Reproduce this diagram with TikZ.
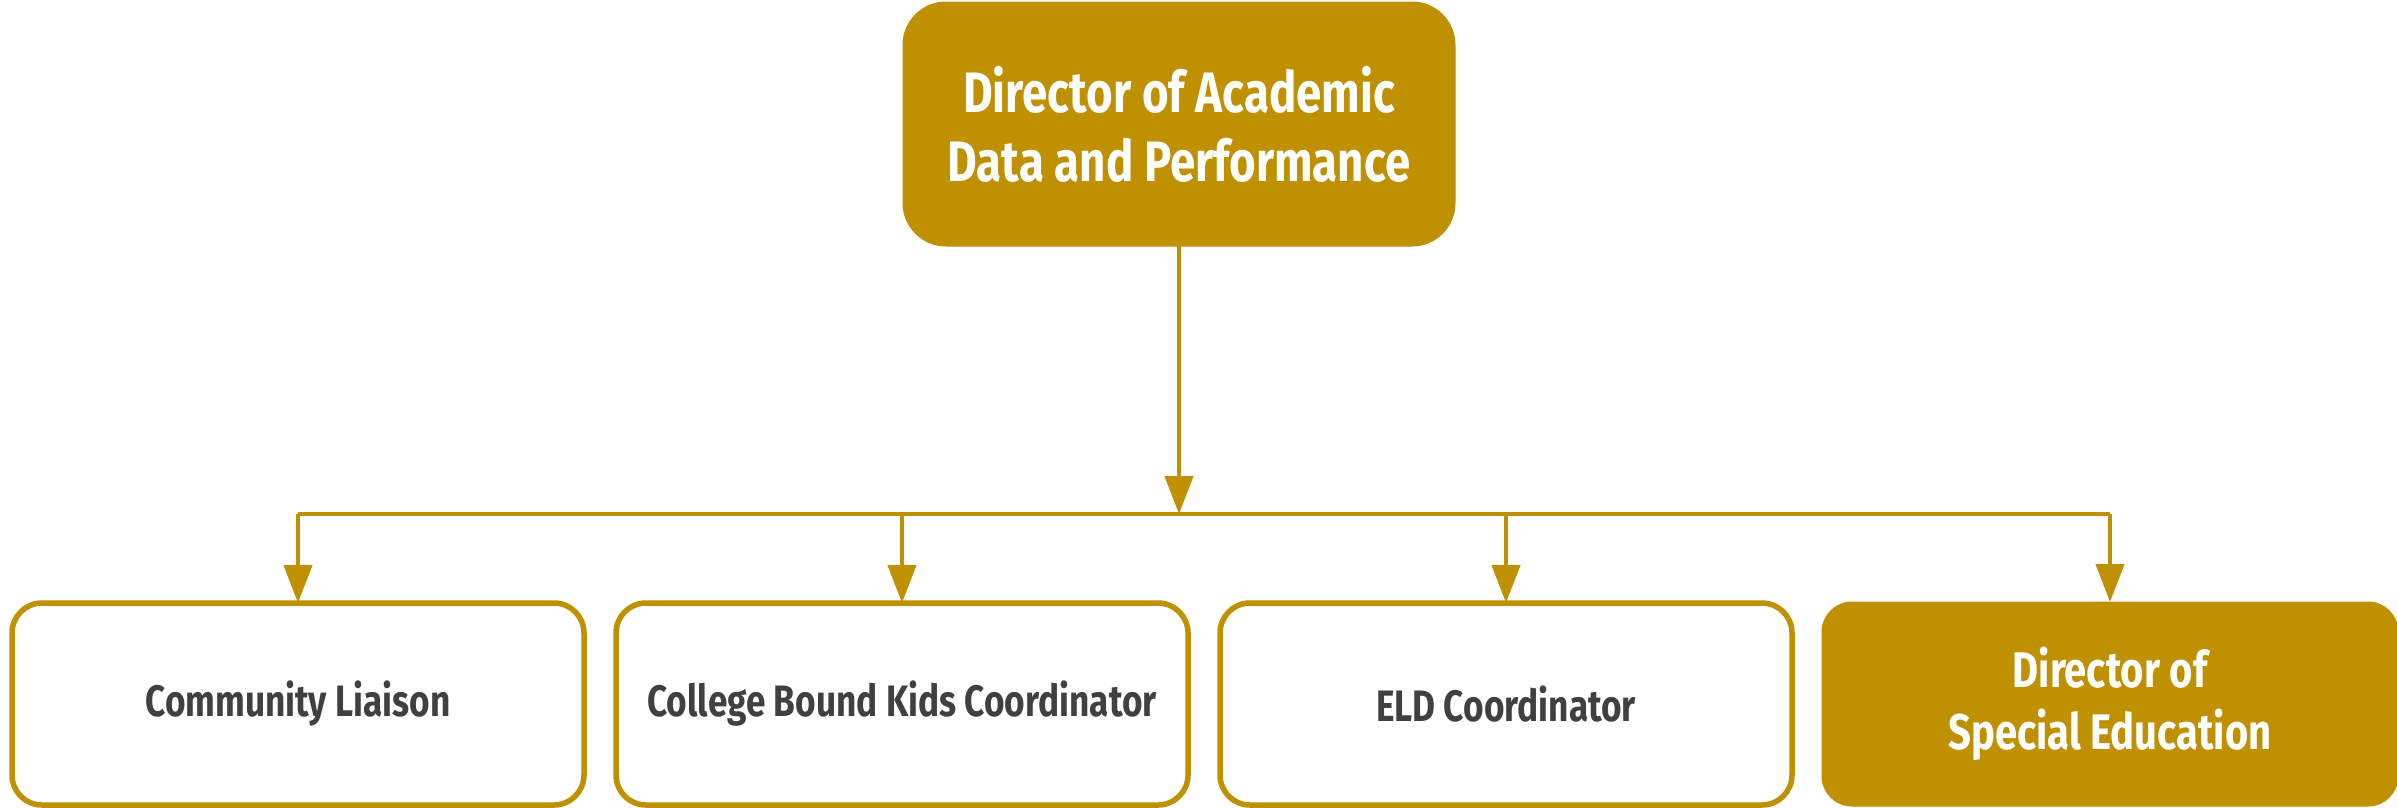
\documentclass[tikz,border=0pt]{standalone}
\usepackage{fontspec}
\setmainfont{Fira Sans}[FakeStretch=0.8]
\usetikzlibrary{arrows.meta}
\definecolor{gold}{HTML}{BF9000}
\definecolor{txt}{HTML}{404040}
\tikzset{
  topbox/.style={rectangle, rounded corners=43pt, fill=gold, draw=gold, line width=1pt, minimum width=552pt, minimum height=244pt, inner sep=0pt, outer sep=0pt, text=white, align=center, font=\fontsize{57}{69}\selectfont\bfseries},
  outbox/.style={rectangle, rounded corners=30pt, fill=white, draw=gold, line width=5.5pt, minimum width=572pt, minimum height=202pt, inner sep=0pt, outer sep=0pt, text=txt, align=center, font=\fontsize{44}{58}\selectfont\bfseries},
  fillbox/.style={rectangle, rounded corners=30pt, fill=gold, draw=gold, line width=1pt, minimum width=576pt, minimum height=204pt, inner sep=0pt, outer sep=0pt, text=white, align=center, font=\fontsize{50}{62}\selectfont\bfseries},
  conn/.style={draw=gold, line width=4.5pt},
  arr/.style={conn, -{Triangle[width=28pt,length=38pt]}}
}
\begin{document}
\begin{tikzpicture}[x=1pt,y=-1pt]
\useasboundingbox (0,0) rectangle (2397,807);
\node[topbox] (top) at (1179,124) {Director of Academic\\Data and Performance};
\node[outbox] (b1) at (298,704) {Community Liaison};
\node[outbox] (b2) at (902,704) {College Bound Kids Coordinator};
\node[outbox] (b3) at (1506,704) {ELD Coordinator};
\node[fillbox] (b4) at (2110,704) {Director of\\Special Education};
\coordinate (j) at (1179,514);
\draw[arr] (top.south) -- (j);
\draw[conn] (b1.north |- j) -- (b4.north |- j);
\draw[arr] (b1.north |- j) -- (b1.north);
\draw[arr] (b2.north |- j) -- (b2.north);
\draw[arr] (b3.north |- j) -- (b3.north);
\draw[arr] (b4.north |- j) -- (b4.north);
\end{tikzpicture}
\end{document}
